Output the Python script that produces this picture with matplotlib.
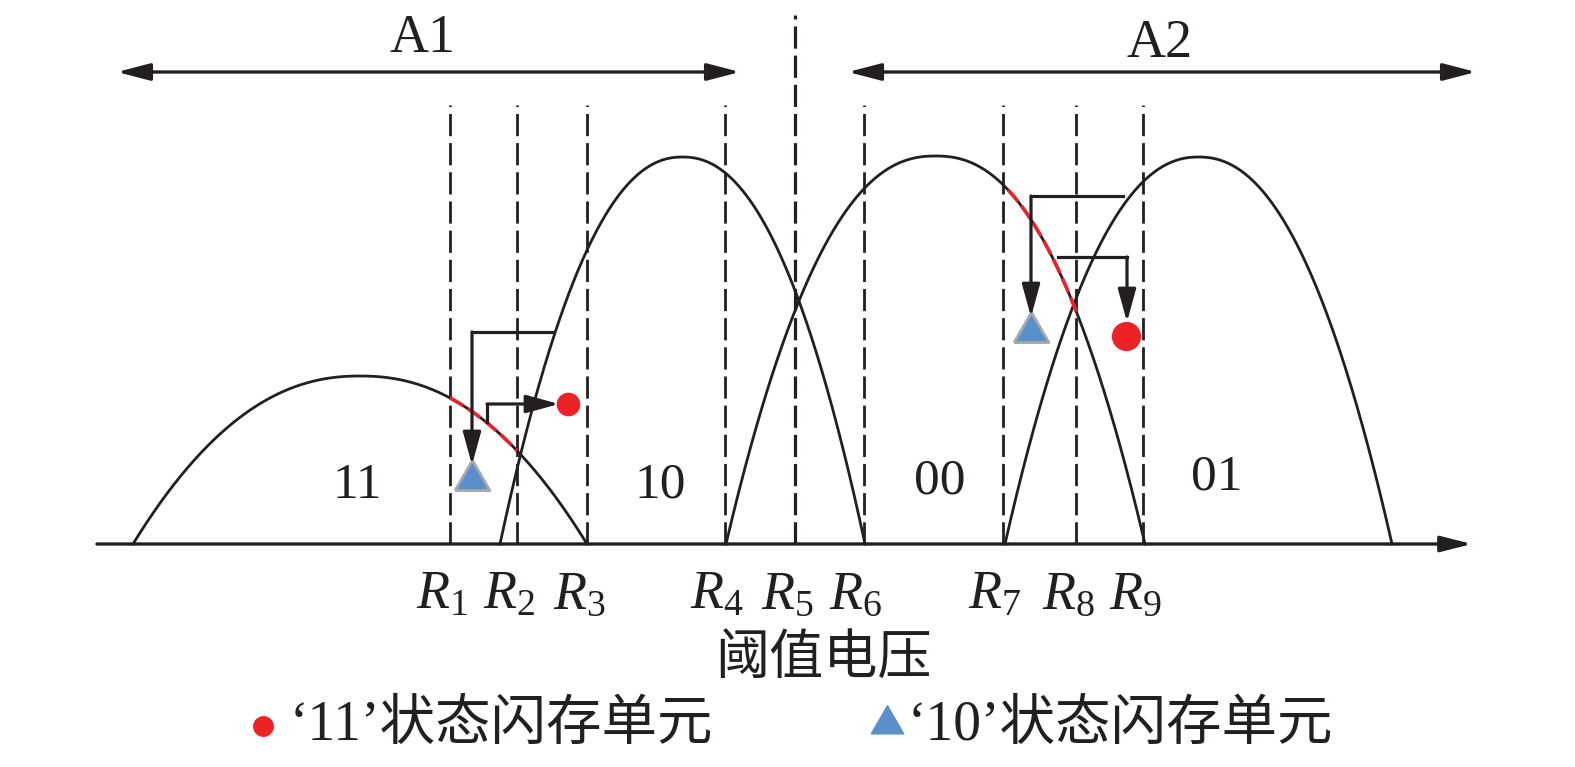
import numpy as np
import matplotlib
matplotlib.use("Agg")
import matplotlib.pyplot as plt

plt.rcParams["font.family"] = ["Liberation Serif", "Noto Sans CJK SC"]
plt.rcParams["mathtext.fontset"] = "custom"
plt.rcParams["mathtext.rm"] = "Liberation Serif"
plt.rcParams["mathtext.it"] = "Liberation Serif:italic"
plt.rcParams["lines.scale_dashes"] = False

# threshold-voltage distributions (start, end, peak height, shape exponent)
states = ["11", "10", "00", "01"]
dist_start = [133, 500, 726, 1005]
dist_end = [587, 865, 1145, 1392]
dist_height = [168, 387, 388, 387]
dist_power = [2.2, 2.2, 2.3, 2.2]
state_label_x = [357, 660, 940, 1217]
state_label_y = [46, 46, 51, 54]

# read reference voltages
r_names = ["R1", "R2", "R3", "R4", "R5", "R6", "R7", "R8", "R9"]
r_x = [450, 517, 587, 725, 795, 864, 1003, 1076, 1143]
r_top = [439, 439, 439, 439, 529, 439, 439, 439, 439]

# misread cells
red = "#ec2227"
blue = "#5b8fcb"
circle_x = [568, 1126]
circle_y = [140, 208]
circle_size = [16, 20]
tri_x = [472, 1031]
tri_y = [64, 212]

# red dashed segments on the distributions (state index, x from, x to)
seg_state = [0, 2]
seg_from = [450, 1008]
seg_to = [517, 1077]


def dist(i, x):
    c = (dist_start[i] + dist_end[i]) / 2
    hw = (dist_end[i] - dist_start[i]) / 2
    t = np.abs((x - c) / hw)
    return dist_height[i] * (1 - t ** dist_power[i])


fig = plt.figure(figsize=(15.75, 7.67), dpi=100)
ax = fig.add_axes([0, 0, 1, 1])
ax.set_xlim(0, 1575)
ax.set_ylim(-223, 544)
ax.axis("off")

# x axis
ax.annotate("", xy=(1472, 0), xytext=(97, 0),
            arrowprops=dict(arrowstyle="-|>,head_length=19,head_width=4.8",
                            mutation_scale=1, lw=2.4, color="#231f20",
                            shrinkA=0, shrinkB=0))

# A1 / A2 ranges
for x0, x1 in [(117, 740), (848, 1476)]:
    ax.annotate("", xy=(x1, 472), xytext=(x0, 472),
                arrowprops=dict(arrowstyle="<|-|>,head_length=20,head_width=5.2",
                                mutation_scale=1, lw=2.4, color="#231f20",
                                shrinkA=0, shrinkB=0))
ax.text(423, 492, "A1", fontsize=39, ha="center", va="baseline", color="#231f20")
ax.text(1160, 487, "A2", fontsize=39, ha="center", va="baseline", color="#231f20")

# dashed reference lines
for name, x, top in zip(r_names, r_x, r_top):
    ax.plot([x, x], [0, top], color="#231f20", lw=2.0 if top < 500 else 2.3,
            dashes=(16, 5))
    ax.text(x - 8, -65, "$R_{%s}$" % name[1], fontsize=39, ha="center",
            va="baseline", color="#231f20")

# distributions
for i, s in enumerate(states):
    xs = np.linspace(dist_start[i], dist_end[i], 400)
    ax.plot(xs, dist(i, xs), color="#231f20", lw=2.0)
    ax.text(state_label_x[i], state_label_y[i], s, fontsize=37, ha="center",
            va="baseline", color="#231f20")

for i, a, b in zip(seg_state, seg_from, seg_to):
    xs = np.linspace(a, b, 50)
    ax.plot(xs, dist(i, xs), color=red, lw=2.6, dashes=(11, 4))

# arrows from distributions to the misread cells
head = "-|>,head_length=20,head_width=5.5"
arrows = [
    [(553, 212), (472, 212), (472, 79)],
    [(487, 122), (487, 140), (559, 140)],
    [(1123, 348), (1031, 348), (1031, 227)],
    [(1058, 287), (1127, 287), (1127, 222)],
]
for pts in arrows:
    xs = [p[0] for p in pts[:-1]]
    ys = [p[1] for p in pts[:-1]]
    ax.plot(xs, ys, color="#231f20", lw=2.3, solid_joinstyle="miter")
    ax.annotate("", xy=pts[-1], xytext=pts[-2],
                arrowprops=dict(arrowstyle=head, mutation_scale=1, lw=2.3,
                                color="#231f20", shrinkA=0, shrinkB=0))

tri = [(-1, -0.577), (1, -0.577), (0, 1.155), (-1, -0.577)]
ax.plot(tri_x, tri_y, ls="none", marker=tri, markersize=29, color=blue,
        markeredgecolor="#a9a9a9", markeredgewidth=2)
for x, y, s in zip(circle_x, circle_y, circle_size):
    ax.plot(x, y, "o", markersize=s, color=red)

# axis label
ax.text(823, -117, "阈值电压", fontsize=39, ha="center", va="center",
        color="#231f20")

# legend
ax.plot(263, -182, "o", markersize=14, color=red)
ax.text(290, -182, "‘11’状态闪存单元", fontsize=40, ha="left", va="center",
        color="#231f20")
ax.plot(887, -180, ls="none", marker=tri, markersize=27, color=blue)
ax.text(908, -182, "‘10’状态闪存单元", fontsize=40, ha="left", va="center",
        color="#231f20")

fig.savefig("out.png", dpi=100)
